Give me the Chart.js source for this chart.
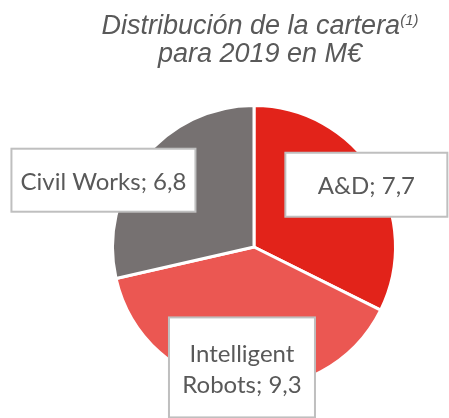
<!DOCTYPE html>
<html><head><meta charset="utf-8">
<script src="https://cdn.jsdelivr.net/npm/chart.js@4/dist/chart.umd.min.js"></script>
<style>
html,body{margin:0;padding:0;background:#fff;width:449px;height:418px;overflow:hidden}
#wrap{position:relative;width:449px;height:418px}
canvas{position:absolute;left:0;top:0}
#title{position:absolute;left:0;top:11px;width:520px;text-align:center;font-family:"Liberation Sans",Arial,sans-serif;font-style:italic;font-size:27px;line-height:28px;color:#595959}
#title sup{font-size:15px;line-height:1;vertical-align:top;position:relative;top:1px}
</style></head>
<body><div id="wrap"><canvas id="c" width="449" height="418"></canvas><div id="title">Distribución de la cartera<sup>(1)</sup><br>para 2019 en M€</div></div>
<script>
const categories = ["A&D", "Intelligent Robots", "Civil Works"];
const values = [7.7, 9.3, 6.8];
const colors = ["#E2231A", "#EB5752", "#767171"];

// label box styling (positions relative to each arc, in units of the pie radius)
const boxStyle = [
  { dx: 0.794, dy: -0.44, w: 162, h: 64, lines: 1 },
  { dx: -0.085, dy: 0.851, w: 146, h: 100, lines: 2 },
  { dx: -1.064, dy: -0.472, w: 184, h: 63, lines: 1 }
];

function labelLines(i) {
  const txt = categories[i] + "; " + values[i].toFixed(1).replace(".", ",");
  if (boxStyle[i].lines === 2) {
    const k = txt.indexOf(" ");
    return [txt.slice(0, k), txt.slice(k + 1)];
  }
  return [txt];
}

const boxPlugin = {
  id: "boxLabels",
  afterDatasetsDraw(chart) {
    const ctx = chart.ctx;
    const meta = chart.getDatasetMeta(0);
    meta.data.forEach((arc, i) => {
      const s = boxStyle[i];
      const r = arc.outerRadius;
      const cx = arc.x + s.dx * r, cy = arc.y + s.dy * r;
      ctx.save();
      ctx.fillStyle = "#fff";
      ctx.strokeStyle = "#BFBFBF";
      ctx.lineWidth = 2;
      ctx.fillRect(cx - s.w / 2, cy - s.h / 2, s.w, s.h);
      ctx.strokeRect(cx - s.w / 2, cy - s.h / 2, s.w, s.h);
      ctx.fillStyle = "#595959";
      ctx.font = "24px Lato, 'Open Sans', sans-serif";
      ctx.textAlign = "center";
      ctx.textBaseline = "middle";
      const lines = labelLines(i);
      const lh = 31;
      lines.forEach((ln, j) => {
        ctx.fillText(ln, cx, cy + 2 + (j - (lines.length - 1) / 2) * lh);
      });
      ctx.restore();
    });
  }
};

new Chart(document.getElementById("c"), {
  type: "pie",
  data: {
    labels: categories,
    datasets: [{ data: values, backgroundColor: colors, borderColor: "#fff", borderWidth: 3 }]
  },
  options: {
    responsive: false,
    animation: false,
    layout: { padding: { top: 104, bottom: 28, left: 111, right: 52 } },
    plugins: { legend: { display: false }, tooltip: { enabled: false }, title: { display: false } }
  },
  plugins: [boxPlugin]
});
</script>
</body></html>
